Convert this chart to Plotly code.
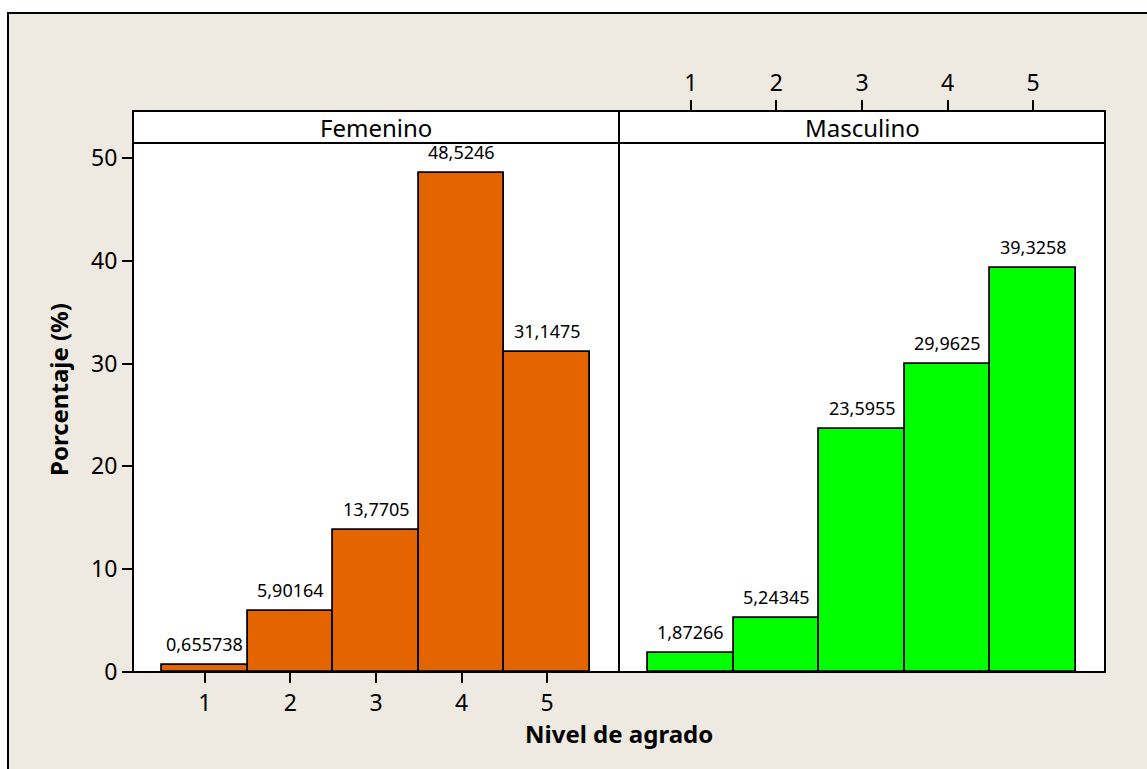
import plotly.graph_objects as go

# ---- data ----
categories = [1, 2, 3, 4, 5]
femenino = [0.655738, 5.90164, 13.7705, 48.5246, 31.1475]
masculino = [1.87266, 5.24345, 23.5955, 29.9625, 39.3258]
panel_titles = ["Femenino", "Masculino"]
y_ticks = [0, 10, 20, 30, 40, 50]
x_title = "Nivel de agrado"
y_title = "Porcentaje (%)"

# ---- style ----
W, H = 1147, 769
L, R, T, B = 133, 42, 111, 97
PW, PH = W - L - R, H - T - B
STRIP = 32 / PH
FONT = "Noto Sans"
ORANGE = "#E46400"
GREEN = "#00FF00"
BEIGE = "#EEEAE1"


def fmt(v):
    return repr(v).replace(".", ",")


def px_x(px):
    return (px - L) / PW


def px_y(py):
    return (H - B - py) / PH


fig = go.Figure()
for vals, color, xa in [(femenino, ORANGE, "x"), (masculino, GREEN, "x2")]:
    fig.add_trace(go.Bar(
        x=categories, y=vals, width=1, xaxis=xa, yaxis="y",
        marker=dict(color=color, line=dict(color="black", width=1.8)),
        showlegend=False, hoverinfo="skip"))

annotations = []
for vals, xa in [(femenino, "x"), (masculino, "x2")]:
    for c, v in zip(categories, vals):
        annotations.append(dict(
            x=c, y=v, xref=xa, yref="y", text=fmt(v), showarrow=False,
            yanchor="bottom", yshift=7, font=dict(family=FONT, size=18, color="black")))

for i, t in enumerate(panel_titles):
    annotations.append(dict(
        x=0.25 + 0.5 * i, y=1 - STRIP / 2, xref="paper", yref="paper", text=t,
        showarrow=False, xanchor="center", yanchor="middle",
        font=dict(family=FONT, size=24, color="black")))

annotations.append(dict(
    x=0.5, y=px_y(733), xref="paper", yref="paper", text="<b>%s</b>" % x_title,
    showarrow=False, xanchor="center", yanchor="middle",
    font=dict(family=FONT, size=24, color="black")))
annotations.append(dict(
    x=px_x(58), y=px_y(390), xref="paper", yref="paper", text="<b>%s</b>" % y_title,
    showarrow=False, xanchor="center", yanchor="middle", textangle=-90,
    font=dict(family=FONT, size=24, color="black")))

shapes = [
    # outer frame (beige)
    dict(type="rect", xref="paper", yref="paper", layer="below",
         x0=px_x(8), x1=px_x(1200), y0=px_y(820), y1=px_y(13),
         fillcolor=BEIGE, line=dict(color="black", width=2)),
    # panel interiors
    dict(type="rect", xref="paper", yref="paper", layer="below",
         x0=0, x1=0.5, y0=0, y1=1, fillcolor="white", line=dict(width=0)),
    dict(type="rect", xref="paper", yref="paper", layer="below",
         x0=0.5, x1=1, y0=0, y1=1, fillcolor="white", line=dict(width=0)),
]
for x0, x1 in [(0, 0.5), (0.5, 1)]:
    shapes.append(dict(type="rect", xref="paper", yref="paper", layer="above",
                       x0=x0, x1=x1, y0=0, y1=1,
                       line=dict(color="black", width=2)))
    shapes.append(dict(type="rect", xref="paper", yref="paper", layer="above",
                       x0=x0, x1=x1, y0=1 - STRIP, y1=1, fillcolor="white",
                       line=dict(color="black", width=2)))

axis_common = dict(range=[0.16, 5.84], tickvals=categories, ticks="outside",
                   ticklen=10, tickwidth=2, tickcolor="black", showgrid=False,
                   zeroline=False, showline=False,
                   tickfont=dict(family=FONT, size=23, color="black"))

fig.update_layout(
    width=W, height=H,
    margin=dict(l=L, r=R, t=T, b=B),
    paper_bgcolor="white", plot_bgcolor="rgba(0,0,0,0)",
    bargap=0,
    xaxis=dict(domain=[0, 0.5], anchor="y", side="bottom", **axis_common),
    xaxis2=dict(domain=[0.5, 1], anchor="y", side="top", **axis_common),
    yaxis=dict(range=[0, 54.57], tickvals=y_ticks, ticks="outside", ticklen=10,
               tickwidth=2, tickcolor="black", showgrid=False, zeroline=False,
               showline=False, anchor="x",
               tickfont=dict(family=FONT, size=23, color="black")),
    annotations=annotations,
    shapes=shapes,
)

fig.write_html("out.html", config={"displayModeBar": False},
               post_script="document.body.style.margin='0';document.body.style.overflow='hidden';")
